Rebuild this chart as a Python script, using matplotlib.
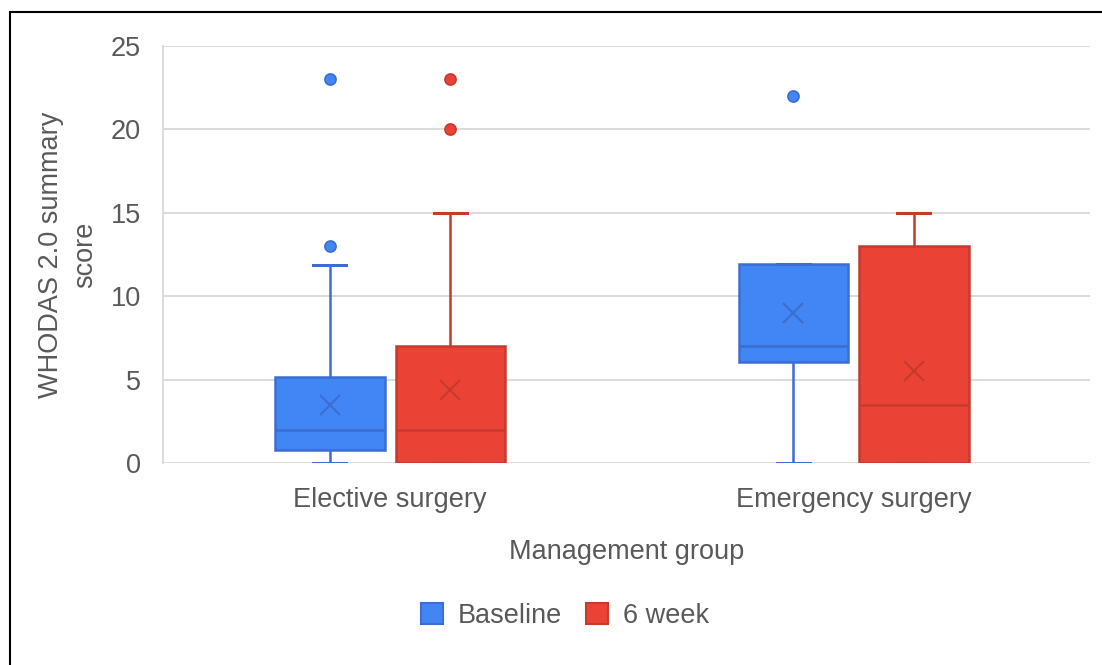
import matplotlib.pyplot as plt
import matplotlib.patches as mpatches

plt.rcParams["font.family"] = ["Liberation Sans", "DejaVu Sans"]

# data
groups = ["Elective surgery", "Emergency surgery"]
series = ["Baseline", "6 week"]

q1 = [[0.75, 0.0], [6.05, 0.0]]
q3 = [[5.15, 7.0], [11.95, 13.0]]
medians = [[2.0, 2.0], [7.0, 3.5]]
means = [[3.5, 4.4], [9.0, 5.5]]
whislo = [[0.0, 0.0], [0.0, 0.0]]
whishi = [[11.9, 15.0], [11.95, 15.0]]
outliers = [[[13, 23], [20, 23]], [[22], []]]

fills = ["#4285F4", "#EA4335"]
edges = ["#3A6FD0", "#C63A2E"]
text_col = "#595959"
grid_col = "#D9D9D9"
fs = 19.5

fig = plt.figure(figsize=(11.02, 6.65), dpi=100)
ax = fig.add_axes([163 / 1102, 1 - 463 / 665, (1090 - 163) / 1102, (463 - 46) / 665])

offsets = [-0.13, 0.13]
box_w = 0.236
for s in range(len(series)):
    stats = []
    pos = []
    for g in range(len(groups)):
        stats.append(dict(
            q1=q1[g][s], q3=q3[g][s], med=medians[g][s], mean=means[g][s],
            whislo=whislo[g][s], whishi=whishi[g][s], fliers=outliers[g][s],
        ))
        pos.append(g + offsets[s])
    ax.bxp(
        stats, positions=pos, widths=box_w, patch_artist=True,
        showmeans=True, manage_ticks=False,
        boxprops=dict(facecolor=fills[s], edgecolor=edges[s], linewidth=1.8),
        medianprops=dict(color=edges[s], linewidth=1.8),
        whiskerprops=dict(color=edges[s], linewidth=1.8),
        capprops=dict(color=edges[s], linewidth=2.2),
        capwidths=box_w * 0.3,
        meanprops=dict(marker="x", markeredgecolor=edges[s], markersize=14,
                       markeredgewidth=1.5, linestyle="none"),
        flierprops=dict(marker="o", markerfacecolor=fills[s], markeredgecolor=edges[s],
                        markersize=8, markeredgewidth=1.2),
    )

ax.set_xlim(-0.49, 1.51)
ax.set_ylim(0, 25)
ax.set_yticks(range(0, 26, 5))
ax.set_xticks(range(len(groups)))
ax.set_xticklabels(groups)
ax.yaxis.grid(True, color=grid_col, linewidth=1.3)
ax.set_axisbelow(True)
for side in ["top", "right", "bottom"]:
    ax.spines[side].set_visible(False)
ax.spines["left"].set_color(grid_col)
ax.spines["left"].set_linewidth(1.3)
ax.tick_params(axis="both", length=0, labelsize=fs, labelcolor=text_col)
ax.tick_params(axis="y", pad=16)
ax.tick_params(axis="x", pad=17)

ax.set_ylabel("WHODAS 2.0 summary\nscore", fontsize=fs, color=text_col, labelpad=9,
              linespacing=1.4)
ax.set_xlabel("Management group", fontsize=fs, color=text_col, labelpad=19)

handles = [mpatches.Patch(facecolor=fills[i], edgecolor=edges[i], linewidth=1.5, label=series[i])
           for i in range(len(series))]
fig.legend(handles=handles, loc="center", bbox_to_anchor=(565 / 1102, 1 - 616 / 665),
           ncol=2, frameon=False, fontsize=fs, labelcolor=text_col,
           handlelength=0.8, handleheight=0.8, handletextpad=0.55, columnspacing=0.9)

# black frame around the chart
fig.patches.append(mpatches.Rectangle((10 / 1102, -0.05), 1.2, 1 - 12 / 665 + 0.05,
                                      transform=fig.transFigure, fill=False,
                                      edgecolor="black", linewidth=1.5))

fig.savefig("out.png", dpi=100)
